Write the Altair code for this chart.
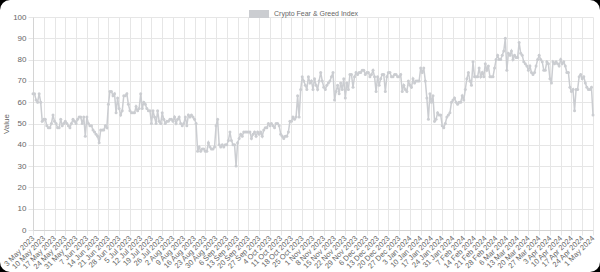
import altair as alt
import pandas as pd

start_date = "2023-05-03"
end_date = "2024-05-01"
series_name = "Crypto Fear & Greed Index"

# daily index values (3 May 2023 .. 1 May 2024)
values_may_jun_2023 = [64, 64, 61, 60, 64, 60, 51, 52, 52, 49,
                       48, 48, 50, 54, 51, 50, 48, 48, 52, 49,
                       50, 51, 50, 49, 48, 50, 52, 51, 50, 52,
                       53, 53, 50, 53, 44, 53, 50, 49, 49, 47,
                       46, 45, 44, 41, 47, 47, 47, 49, 48, 59,
                       65, 65, 63, 64, 55, 62, 57, 54, 56, 63]
values_jul_aug_2023 = [63, 64, 59, 56, 55, 55, 55, 58, 56, 57,
                       64, 57, 60, 59, 57, 56, 56, 50, 56, 53,
                       50, 56, 51, 50, 55, 52, 50, 51, 51, 52,
                       52, 51, 53, 50, 52, 53, 50, 49, 50, 53,
                       49, 54, 53, 54, 53, 52, 50, 37, 39, 37,
                       38, 38, 37, 37, 41, 39, 38, 38, 39, 49]
values_sep_oct_2023 = [52, 40, 39, 40, 39, 40, 40, 42, 46, 42,
                       40, 40, 30, 41, 43, 45, 44, 46, 46, 46,
                       46, 46, 43, 45, 46, 44, 46, 45, 46, 44,
                       47, 48, 48, 50, 49, 50, 49, 48, 50, 50,
                       49, 45, 44, 43, 44, 44, 46, 51, 51, 53,
                       52, 53, 63, 53, 66, 72, 70, 68, 66, 72]
values_nov_dec_2023 = [69, 70, 66, 71, 68, 66, 70, 74, 70, 67,
                       66, 68, 69, 70, 72, 74, 61, 65, 68, 64,
                       69, 66, 71, 62, 69, 66, 73, 73, 67, 72,
                       74, 73, 74, 74, 75, 75, 73, 74, 74, 72,
                       73, 75, 72, 65, 72, 68, 71, 73, 73, 65,
                       72, 74, 74, 72, 72, 73, 73, 72, 72, 73]
values_jan_feb_2024 = [65, 68, 66, 65, 70, 68, 67, 71, 69, 70,
                       70, 70, 76, 74, 76, 70, 62, 52, 64, 60,
                       63, 51, 52, 55, 54, 54, 49, 48, 50, 53,
                       54, 55, 60, 61, 62, 60, 59, 60, 60, 63,
                       61, 66, 71, 74, 70, 68, 79, 72, 72, 72,
                       76, 72, 74, 72, 78, 75, 77, 72, 72, 72]
values_mar_may_2024 = [76, 80, 82, 80, 80, 82, 84, 90, 75, 83,
                       82, 84, 80, 82, 81, 81, 88, 83, 82, 79,
                       78, 77, 75, 77, 74, 73, 74, 77, 80, 82,
                       80, 79, 75, 75, 79, 78, 71, 69, 79, 78,
                       79, 78, 77, 80, 78, 79, 77, 74, 74, 67,
                       65, 66, 56, 66, 66, 72, 73, 71, 72, 69,
                       67, 66, 66, 67, 54]

values = (values_may_jun_2023 + values_jul_aug_2023 + values_sep_oct_2023
          + values_nov_dec_2023 + values_jan_feb_2024 + values_mar_may_2024)

dates = pd.date_range(start_date, end_date, freq="D")
date_labels = [f"{d.day} {d.strftime('%b')} {d.year}" for d in dates]
tick_labels = date_labels[::7]
y_ticks = list(range(0, 101, 10))

df = pd.DataFrame({"date": date_labels, "value": values, "series": series_name})

FONT = "Liberation Sans"
GRID = "#e6e6e6"
DOMAIN = "#d4d4d4"
LINE = "#cbcdd1"
TEXT = "#666666"

x_enc = alt.X(
    "date:N",
    sort=date_labels,
    scale=alt.Scale(type="point", padding=0, domain=date_labels),
    axis=alt.Axis(
        values=tick_labels, title=None, labelAngle=-45, labelAlign="right",
        labelBaseline="middle", labelFont=FONT, labelFontSize=7.5, labelColor=TEXT,
        labelPadding=2, grid=True, gridColor=GRID, tickColor=GRID, tickSize=5,
        domainColor=DOMAIN, labelOverlap=False,
    ),
)
y_enc = alt.Y(
    "value:Q",
    scale=alt.Scale(domain=[0, 100], nice=False),
    axis=alt.Axis(
        values=y_ticks, title="Value", titleFont=FONT, titleFontSize=8,
        titleFontWeight="normal", titleColor=TEXT, titlePadding=2,
        labelFont=FONT, labelFontSize=8, labelColor=TEXT, labelPadding=2,
        grid=True, gridColor=GRID, tickColor=GRID, tickSize=5, domainColor=DOMAIN,
    ),
)
color_enc = alt.Color(
    "series:N",
    scale=alt.Scale(domain=[series_name], range=[LINE]),
    legend=alt.Legend(
        title=None, orient="none", legendX=216, legendY=-13, direction="horizontal",
        symbolType="M-1,-0.4H1V0.4H-1Z", symbolSize=400, symbolFillColor=LINE,
        symbolStrokeColor=LINE, symbolStrokeWidth=0, symbolOpacity=1,
        labelFont=FONT, labelFontSize=7, labelColor=TEXT, labelOffset=5, padding=0,
    ),
)

line = alt.Chart(df).mark_line(strokeWidth=1.5).encode(x=x_enc, y=y_enc, color=color_enc)
points = alt.Chart(df).mark_point(filled=True, size=9, opacity=1).encode(
    x=x_enc, y=y_enc,
    color=alt.Color("series:N", scale=alt.Scale(domain=[series_name], range=[LINE]), legend=None),
)

corners = alt.Chart(pd.DataFrame({"a": [0]})).mark_rect(
    fill=None, stroke="#000000", strokeWidth=20, cornerRadius=20
).encode(
    x=alt.value(-43), x2=alt.value(577), y=alt.value(-27), y2=alt.value(265)
)

chart = alt.layer(line, points, corners).properties(
    width=560, height=213,
    autosize=alt.AutoSizeParams(type="none"),
    padding={"left": 33, "top": 17, "right": 7, "bottom": 42},
    background="#ffffff",
).configure_view(stroke=None)

chart.save("out.html", embed_options={"renderer": "svg", "actions": False})
